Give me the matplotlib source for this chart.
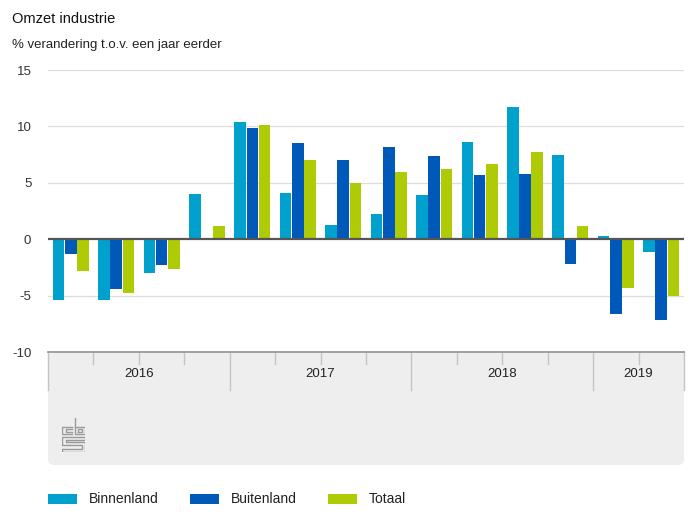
import matplotlib
matplotlib.use('Agg')
import matplotlib.pyplot as plt
from matplotlib.patches import FancyBboxPatch, Rectangle
import numpy as np

plt.rcParams['font.family'] = ['Liberation Sans', 'DejaVu Sans']

# kwartalen 2016 Q1 t/m 2019 Q2
quarters = ['2016 Q1', '2016 Q2', '2016 Q3', '2016 Q4',
            '2017 Q1', '2017 Q2', '2017 Q3', '2017 Q4',
            '2018 Q1', '2018 Q2', '2018 Q3', '2018 Q4',
            '2019 Q1', '2019 Q2']
years = ['2016', '2017', '2018', '2019']
year_quarters = [4, 4, 4, 2]

series = ['Binnenland', 'Buitenland', 'Totaal']
binnenland = [-5.4, -5.4, -3.0, 4.0, 10.4, 4.1, 1.3, 2.2, 3.9, 8.6, 11.7, 7.5, 0.3, -1.1]
buitenland = [-1.3, -4.4, -2.3, -0.1, 9.9, 8.5, 7.0, 8.2, 7.4, 5.7, 5.8, -2.2, -6.6, -7.2]
totaal = [-2.8, -4.8, -2.6, 1.2, 10.1, 7.0, 5.0, 6.0, 6.2, 6.7, 7.7, 1.2, -4.3, -5.0]
colors = ['#00a1cd', '#0058b8', '#afcb05']

W, H = 696, 522
fig = plt.figure(figsize=(W / 100, H / 100), dpi=100)


def fx(px):
    return px / W


def fy(py):
    return 1 - py / H


L, R = 48, 684          # plotgebied in pixels
TOP, BOT = 70, 352
BOX_BOT = 465
bw, bh = R - L, BOX_BOT - BOT
n = len(quarters)

# staafdiagram
ax = fig.add_axes([fx(L), fy(BOT), fx(R) - fx(L), fy(TOP) - fy(BOT)])
ax.set_facecolor('none')
x = np.arange(n) + 0.5
offsets = [-0.27, 0.0, 0.27]
for vals, off, col, name in zip([binnenland, buitenland, totaal], offsets, colors, series):
    ax.bar(x + off, vals, width=0.255, color=col, label=name, zorder=2)

ax.set_xlim(0, n)
ax.set_ylim(-10, 15)
yt = [-10, -5, 0, 5, 10, 15]
ax.set_yticks(yt)
ax.set_yticklabels([str(v) for v in yt])
for v in yt:
    if v == 0:
        ax.axhline(v, color='#555555', lw=1.6, zorder=3)
    elif v != -10:
        ax.axhline(v, color='#dddddd', lw=0.9, zorder=1)
ax.set_xticks([])
ax.tick_params(axis='y', length=0, pad=12, labelsize=9.5, labelcolor='#333333')
for lab in ax.get_yticklabels():
    lab.set_horizontalalignment('right')
for s in ax.spines.values():
    s.set_visible(False)

# grijze categorie-balk onder de grafiek (bovenop getekend)
cax = fig.add_axes([fx(L), fy(BOX_BOT), fx(R) - fx(L), fy(BOT) - fy(BOX_BOT)], zorder=5)
cax.set_facecolor('none')
for s in cax.spines.values():
    s.set_visible(False)
cax.set_xticks([])
cax.set_yticks([])
cax.set_xlim(0, n)
cax.set_ylim(bh, 0)
r = 6
cax.add_patch(FancyBboxPatch((r / bw, r / bh), 1 - 2 * r / bw, 1 - 2 * r / bh,
                             boxstyle=f'round,pad={r / bw}', mutation_aspect=bw / bh,
                             transform=cax.transAxes, facecolor='#eeeeee',
                             edgecolor='none', clip_on=False, zorder=0))
cax.add_patch(Rectangle((0, 0.5), 1, 0.5, transform=cax.transAxes, facecolor='#eeeeee',
                        edgecolor='none', clip_on=False, zorder=0))
cax.plot([0, n], [0, 0], color='#999999', lw=1.3, clip_on=False, zorder=3)
bounds = np.cumsum([0] + year_quarters)
for q in range(n + 1):
    depth = 38 if q in bounds else 12
    cax.plot([q, q], [0, depth], color='#c4c4c4', lw=1.0, clip_on=False, zorder=2)
for i, yr in enumerate(years):
    mid = (bounds[i] + bounds[i + 1]) / 2
    cax.text(mid, 22, yr, ha='center', va='center', fontsize=9.5, color='#222222')

# cbs logo (vereenvoudigd)
lax = fig.add_axes([fx(62), fy(452), fx(85) - fx(62), fy(418) - fy(452)], zorder=6)
lax.set_xlim(0, 1)
lax.set_ylim(0, 1.5)
lax.axis('off')
lc = '#9a9a9a'
lax.plot([0.45, 0.02, 0.02, 0.45], [1.12, 1.12, 0.78, 0.78], color=lc, lw=1)
lax.plot([0.45, 0.16, 0.16, 0.45], [1.0, 1.0, 0.9, 0.9], color=lc, lw=1)
lax.plot([0.58, 0.58, 0.98, 0.98, 0.58], [1.48, 0.78, 0.78, 1.12, 1.12], color=lc, lw=1)
lax.plot([0.7, 0.86, 0.86, 0.7, 0.7], [0.9, 0.9, 1.0, 1.0, 0.9], color=lc, lw=1)
lax.plot([0.98, 0.02, 0.02, 0.86, 0.86, 0.02, 0.02, 0.98, 0.98, 0.16, 0.16, 0.98, 0.98],
         [0.66, 0.66, 0.32, 0.32, 0.14, 0.14, 0.02, 0.02, 0.44, 0.44, 0.54, 0.54, 0.66],
         color=lc, lw=1)

# titels
fig.text(fx(12), fy(19), 'Omzet industrie', fontsize=10.5, color='#111111', va='center')
fig.text(fx(12), fy(45), '% verandering t.o.v. een jaar eerder', fontsize=9.5,
         color='#222222', va='center')

# legenda
leg_x = [48, 190, 328]
for name, col, lx in zip(series, colors, leg_x):
    fig.add_artist(Rectangle((fx(lx), fy(504)), fx(29), 10 / H, facecolor=col,
                             edgecolor='none'))
    fig.text(fx(lx + 41), fy(499), name, fontsize=10, color='#222222', va='center')

fig.savefig('out.png', dpi=100)
